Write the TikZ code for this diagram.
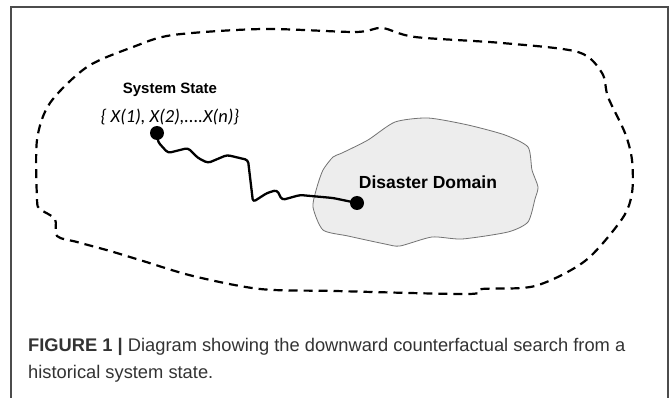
\documentclass[tikz,border=0pt]{standalone}
\usepackage{fontspec}
\setmainfont{Liberation Sans}
\newfontfamily\calib{Carlito}
\begin{document}
\begin{tikzpicture}[x=1pt,y=-1pt,
  frameline/.style={draw=black!70,line width=1.1pt},
  outline/.style={draw=black,line width=2.2pt,dash pattern=on 9pt off 6pt},
  blob/.style={draw=black!55,fill=black!7,line width=0.8pt},
  walk/.style={draw=black,line width=2.3pt,line join=round,line cap=round,rounded corners=3pt},
  dot/.style={circle,fill=black,inner sep=0pt,minimum size=14pt}]
\useasboundingbox (0,0) rectangle (670,398);
\fill[white] (0,0) rectangle (670,398);
% frame
\draw[frameline] (11,400) -- (11,7) -- (668,7) -- (668,400);
% outer dashed region
\draw[outline] plot[smooth cycle,tension=0.5] coordinates {
 (263,29) (355,32) (382,28) (415,37) (502,43) (578,52) (602,73) (608,97)
 (625,133) (632,160) (632,193) (622,219) (585,261) (535,286)
 (482,289) (468,294) (335,291) (260,289) (193,276) (143,261) (110,251)
 (77,242) (57,236) (55,219) (40,209) (37,199) (37,140) (50,103) (87,67)
 (133,47) (173,35)};
% disaster domain blob
\draw[blob] plot[smooth cycle,tension=0.4] coordinates {
 (395,122) (428,118) (468,125) (505,135) (528,147) (532,170) (538,187)
 (535,199) (528,222) (508,232) (462,239) (432,237) (400,246) (385,244)
 (348,236) (323,230) (313,207) (317,187) (323,170) (333,157) (342,153) (368,140)};
% labels
\node[font=\fontsize{15}{17}\selectfont\bfseries] (sstitle) at (170,90) {System State};
\node[font=\calib\fontsize{18.5}{20}\selectfont\itshape] (ssvec) at (170,117) {\{ X(1), X(2),....X(n)\}};
\node[font=\fontsize{17.5}{20}\selectfont\bfseries] (ddtitle) at (428,182) {Disaster Domain};
% dots
\node[dot] (ss) at (157,133) {};
\node[dot] (dd) at (357,203) {};
% random walk
\draw[walk] (ss.center) -- (158,142) -- (168,153) -- (188,148) -- (198,158) -- (208,163)
 -- (227,155) -- (248,160) -- (253,202) -- (267,193) -- (277,190) -- (282,200)
 -- (300,195) -- (333,198) -- (dd.center);
% caption
\node[anchor=base west,inner sep=0pt,text=black!80,font=\fontsize{18.3}{24}\selectfont] (cap1) at (28,352)
 {\textbf{FIGURE 1 |} Diagram showing the downward counterfactual search from a};
\node[anchor=base west,inner sep=0pt,text=black!80,font=\fontsize{18.3}{24}\selectfont] (cap2) at (28,378)
 {historical system state.};
\end{tikzpicture}
\end{document}
